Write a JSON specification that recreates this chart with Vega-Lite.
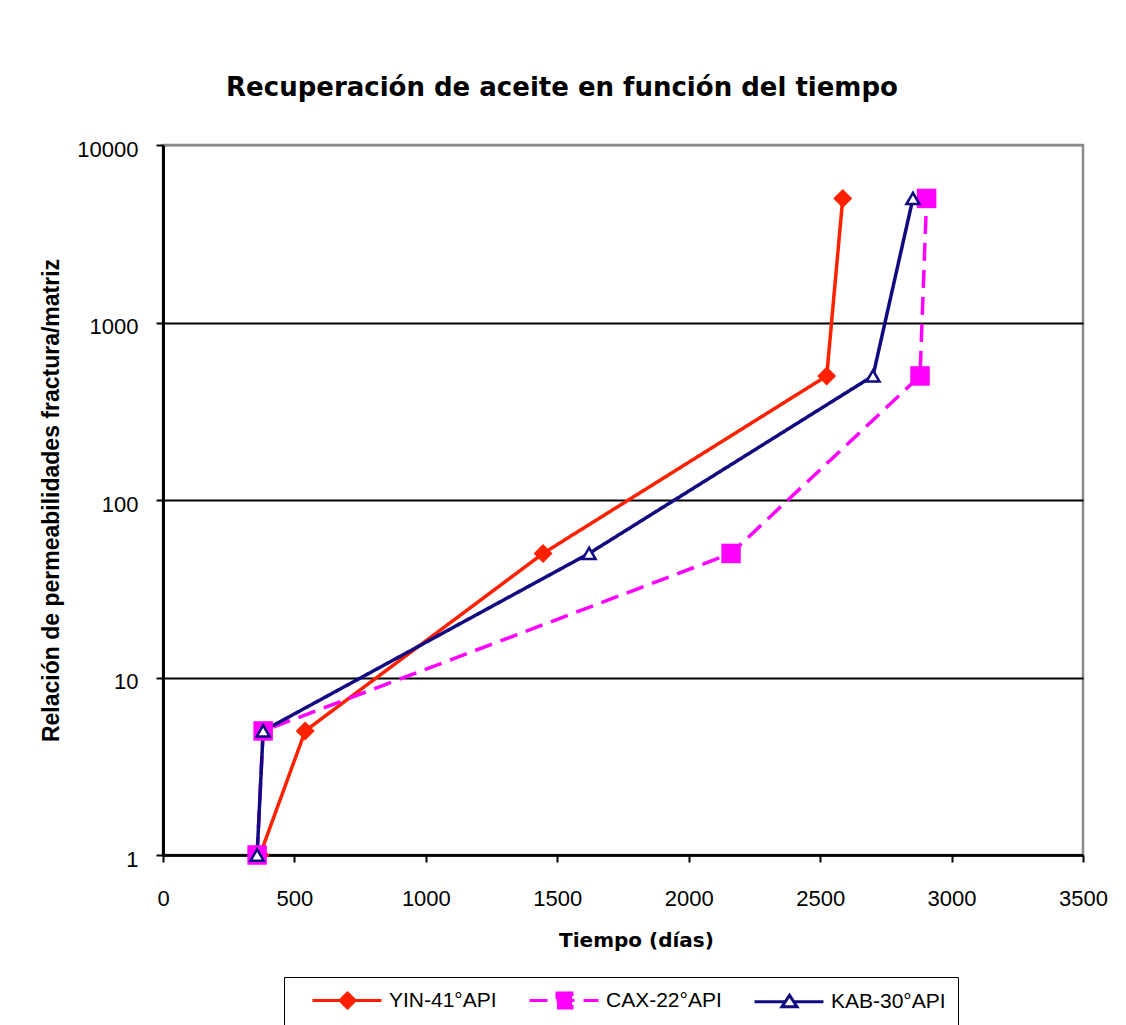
{
  "$schema": "https://vega.github.io/schema/vega-lite/v6.json",
  "width": 920,
  "height": 710,
  "autosize": {"type": "none"},
  "padding": {"left": 163, "top": 145, "right": 43, "bottom": 170},
  "background": "white",
  "config": {
    "view": {"stroke": "#8a8a8a", "strokeWidth": 2.5},
    "legend": {
      "orient": "none",
      "legendX": 121,
      "legendY": 832,
      "direction": "horizontal",
      "columns": 3,
      "strokeColor": "black",
      "fillColor": "white",
      "padding": 12,
      "symbolSize": 400,
      "symbolStrokeWidth": 3,
      "symbolOpacity": 1,
      "labelFont": "Liberation Sans",
      "labelFontSize": 21,
      "labelColor": "black",
      "labelOffset": 70,
      "labelLimit": 300,
      "columnPadding": 16
    }
  },
  "title": {
    "text": "Recuperación de aceite en función del tiempo",
    "font": "DejaVu Sans",
    "fontSize": 26,
    "fontWeight": "bold",
    "color": "black",
    "anchor": "middle",
    "baseline": "alphabetic",
    "offset": 16,
    "dx": -61
  },
  "data": {
    "values": [
      {"serie": "YIN-41°API", "t": 369, "k": 1},
      {"serie": "YIN-41°API", "t": 541, "k": 5},
      {"serie": "YIN-41°API", "t": 1446, "k": 50},
      {"serie": "YIN-41°API", "t": 2525, "k": 500},
      {"serie": "YIN-41°API", "t": 2586, "k": 5000},
      {"serie": "CAX-22°API", "t": 358, "k": 1},
      {"serie": "CAX-22°API", "t": 381, "k": 5},
      {"serie": "CAX-22°API", "t": 2161, "k": 50},
      {"serie": "CAX-22°API", "t": 2880, "k": 500},
      {"serie": "CAX-22°API", "t": 2905, "k": 5000},
      {"serie": "KAB-30°API", "t": 358, "k": 1},
      {"serie": "KAB-30°API", "t": 381, "k": 5},
      {"serie": "KAB-30°API", "t": 1621, "k": 50},
      {"serie": "KAB-30°API", "t": 2701, "k": 500},
      {"serie": "KAB-30°API", "t": 2853, "k": 5000}
    ]
  },
  "encoding": {
    "x": {
      "field": "t",
      "type": "quantitative",
      "scale": {"domain": [0, 3500], "nice": false, "zero": false},
      "axis": {
        "values": [0, 500, 1000, 1500, 2000, 2500, 3000, 3500],
        "format": "d",
        "title": "Tiempo (días)",
        "titleFont": "DejaVu Sans",
        "titleFontSize": 20,
        "titleFontWeight": "bold",
        "titleColor": "black",
        "titleX": 473,
        "titleY": 75,
        "titleBaseline": "top",
        "titleAlign": "center",
        "labelFont": "Liberation Sans",
        "labelFontSize": 22,
        "labelColor": "black",
        "labelPadding": 26,
        "labelFlush": false,
        "labelOverlap": false,
        "tickColor": "black",
        "tickWidth": 2,
        "tickSize": 7,
        "domainColor": "black",
        "domainWidth": 2.5,
        "grid": false
      }
    },
    "y": {
      "field": "k",
      "type": "quantitative",
      "scale": {"type": "log", "domain": [1, 10000], "nice": false},
      "axis": {
        "values": [1, 10, 100, 1000, 10000],
        "format": "d",
        "title": "Relación de permeabilidades fractura/matriz",
        "titleFont": "Liberation Sans",
        "titleFontSize": 23,
        "titleFontWeight": "bold",
        "titleColor": "black",
        "titleAngle": 270,
        "titleBaseline": "bottom",
        "titleAlign": "center",
        "titleX": -100,
        "titleY": 355,
        "labelFont": "Liberation Sans",
        "labelFontSize": 22,
        "labelColor": "black",
        "labelPadding": 18,
        "labelOffset": 4,
        "labelOverlap": false,
        "tickColor": "black",
        "tickWidth": 2,
        "tickSize": 7,
        "domainColor": "black",
        "domainWidth": 3,
        "grid": true,
        "gridColor": {"condition": {"test": "datum.value >= 10000", "value": "#8a8a8a"}, "value": "black"},
        "gridWidth": 2,
        "gridOpacity": 1
      }
    }
  },
  "layer": [
    {
      "mark": {"type": "point", "opacity": 0, "clip": true},
      "encoding": {
        "color": {
          "field": "serie",
          "type": "nominal",
          "title": null,
          "scale": {"domain": ["YIN-41°API", "CAX-22°API", "KAB-30°API"], "range": ["#FF2000", "#FF00FF", "#120A80"]}
        },
        "fill": {
          "field": "serie",
          "type": "nominal",
          "title": null,
          "scale": {"domain": ["YIN-41°API", "CAX-22°API", "KAB-30°API"], "range": ["#FF2000", "#FF00FF", "white"]}
        },
        "shape": {
          "field": "serie",
          "type": "nominal",
          "title": null,
          "scale": {
            "domain": ["YIN-41°API", "CAX-22°API", "KAB-30°API"],
            "range": [
              "M0.5,0H7.4M4,-0.75L4.75,0L4,0.75L3.25,0Z",
              "M0.5,0H7.4M3.25,-0.75H4.75V0.75H3.25Z",
              "M0.5,0H3.55M4.45,0H7.4M4,-0.65L4.75,0.5H3.25Z"
            ]
          }
        },
        "strokeDash": {
          "field": "serie",
          "type": "nominal",
          "title": null,
          "scale": {"domain": ["YIN-41°API", "CAX-22°API", "KAB-30°API"], "range": [[1, 0], [18, 9], [1, 0]]}
        }
      }
    },
    {
      "mark": {"type": "line", "strokeWidth": 3.5, "clip": false},
      "encoding": {
        "color": {"field": "serie", "type": "nominal", "title": null},
        "strokeDash": {"field": "serie", "type": "nominal", "title": null}
      }
    },
    {
      "transform": [{"filter": "datum.serie === 'YIN-41°API'"}],
      "mark": {"type": "point", "shape": "diamond", "filled": true, "color": "#FF2000", "opacity": 1, "size": 360, "clip": false}
    },
    {
      "transform": [{"filter": "datum.serie === 'CAX-22°API'"}],
      "mark": {"type": "point", "shape": "square", "filled": true, "color": "#FF00FF", "opacity": 1, "size": 380, "clip": false}
    },
    {
      "transform": [{"filter": "datum.serie === 'KAB-30°API'"}],
      "mark": {"type": "point", "shape": "triangle-up", "filled": false, "fill": "white", "stroke": "#120A80", "strokeWidth": 2.5, "opacity": 1, "size": 170, "clip": false}
    }
  ]
}
